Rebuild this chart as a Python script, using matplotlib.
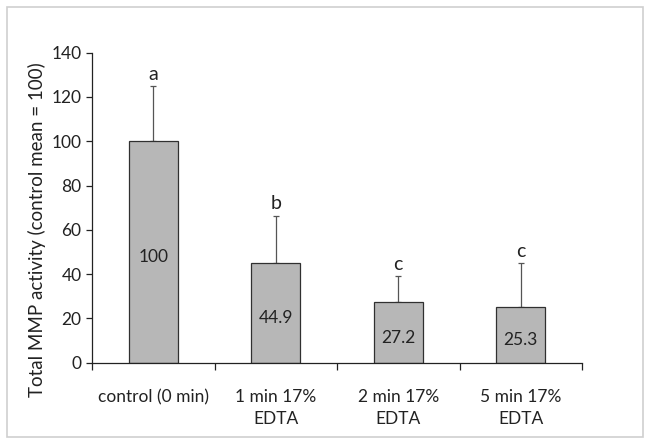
import matplotlib
matplotlib.use('Agg')
from matplotlib import pyplot as plt
from matplotlib.patches import Rectangle
import numpy as np

# values
categories = ['control (0 min)', '1 min 17%\nEDTA', '2 min 17%\nEDTA', '5 min 17%\nEDTA']
means = [100, 44.9, 27.2, 25.3]
errors = [25.0, 21.5, 11.8, 19.6]
value_labels = ['100', '44.9', '27.2', '25.3']
letters = ['a', 'b', 'c', 'c']

plt.rcParams['font.family'] = ['Lato', 'DejaVu Sans']

fig = plt.figure(figsize=(6.49, 4.47), dpi=100)
ax = fig.add_axes([0.1418, 0.189, 0.755, 0.693])

x = np.arange(len(categories))
ax.bar(x, means, width=0.4, color='#b7b7b7', edgecolor='#303030', linewidth=0.9, zorder=2)
ax.errorbar(x, means, yerr=[np.zeros(len(errors)), errors], fmt='none',
            ecolor='#555555', elinewidth=0.9, capsize=2, capthick=0.9, zorder=1)

# value labels inside the bars
for xi, m, lab in zip(x, means, value_labels):
    ax.text(xi, m / 2 - 2.5, lab, ha='center', va='center', fontsize=12.5, color='#222222')

# significance letters above the error bars
for xi, m, e, let in zip(x, means, errors, letters):
    ax.text(xi, m + e + 1.5, let, ha='center', va='bottom', fontsize=14, color='#222222')

ax.set_xlim(-0.5, len(categories) - 0.5)
ax.set_ylim(0, 140)
ax.set_yticks(np.arange(0, 141, 20))

# ticks at category boundaries, labels centered under bars
ax.set_xticks(np.arange(-0.5, len(categories)), minor=False)
ax.set_xticklabels([])
ax.set_xticks(x, minor=True)
ax.set_xticklabels(categories, minor=True, fontsize=12.5, color='#222222', linespacing=1.45)
ax.tick_params(axis='x', which='major', direction='out', length=5, width=0.9, colors='#222222')
ax.tick_params(axis='x', which='minor', length=0, pad=19)
ax.tick_params(axis='y', direction='out', length=4, width=0.9, labelsize=12.5, colors='#222222')

for side in ['top', 'right']:
    ax.spines[side].set_visible(False)
for side in ['left', 'bottom']:
    ax.spines[side].set_color('#222222')
    ax.spines[side].set_linewidth(0.9)

fig.text(0.057, 0.487, 'Total MMP activity (control mean = 100)', rotation=90,
         ha='center', va='center', fontsize=13.5, color='#222222')

# light border around the whole chart area
fig.patches.append(Rectangle((0.0115, 0.022), 0.979, 0.962, transform=fig.transFigure,
                             fill=False, edgecolor='#cfcfcf', linewidth=1.2))

fig.savefig('out.png', dpi=100)
